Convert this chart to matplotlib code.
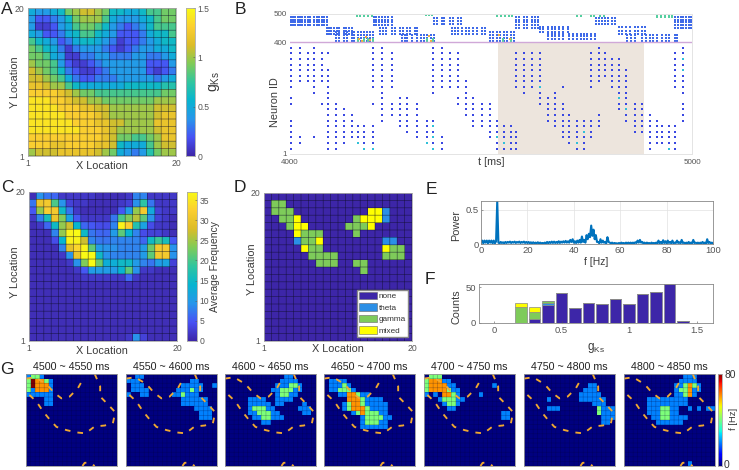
import numpy as np
import matplotlib
matplotlib.use("Agg")
import matplotlib.pyplot as plt
from matplotlib.colors import LinearSegmentedColormap, ListedColormap
from matplotlib.patches import Patch

plt.rcParams['font.family'] = ['Liberation Sans', 'DejaVu Sans']
plt.rcParams['mathtext.fontset'] = 'custom'
plt.rcParams['mathtext.rm'] = 'Liberation Sans'
plt.rcParams['mathtext.it'] = 'Liberation Sans'

W, H = 739, 470
TXT = '#3a3a3a'
TICK = '#555555'

parula = LinearSegmentedColormap.from_list('parula', [
    (0.2422, 0.1504, 0.6603), (0.2810, 0.3228, 0.9579), (0.1540, 0.5902, 0.9218),
    (0.0297, 0.7082, 0.8163), (0.1938, 0.7758, 0.6251), (0.5044, 0.7993, 0.3480),
    (0.8634, 0.7406, 0.1596), (0.9892, 0.8136, 0.1885), (0.9769, 0.9839, 0.0805)])

# panel A, gKs x10, first row is Y=20
gks = [
    [5, 4, 4, 5, 6, 9, 10, 11, 11, 10, 9, 6, 6, 5, 5, 6, 8, 8, 9, 9],
    [4, 2, 2, 3, 4, 6, 9, 10, 10, 10, 8, 5, 4, 4, 4, 5, 6, 8, 9, 9],
    [4, 1, 1, 2, 4, 5, 8, 9, 9, 8, 6, 4, 3, 2, 3, 4, 6, 8, 8, 8],
    [5, 4, 2, 2, 3, 5, 6, 8, 8, 6, 5, 4, 2, 2, 2, 3, 5, 6, 6, 8],
    [8, 6, 5, 4, 2, 3, 5, 6, 6, 5, 4, 3, 1, 2, 2, 3, 4, 5, 6, 6],
    [9, 8, 6, 5, 3, 1, 3, 4, 4, 4, 3, 2, 1, 2, 3, 4, 4, 5, 5, 6],
    [9, 9, 8, 5, 4, 1, 1, 3, 3, 4, 4, 3, 3, 3, 4, 4, 3, 3, 4, 5],
    [10, 9, 9, 8, 4, 2, 1, 1, 2, 3, 4, 4, 4, 4, 4, 4, 2, 2, 2, 4],
    [11, 10, 9, 8, 6, 3, 2, 1, 1, 2, 3, 4, 4, 4, 4, 4, 2, 1, 2, 3],
    [11, 11, 10, 9, 8, 5, 3, 2, 2, 3, 3, 3, 4, 4, 4, 4, 4, 3, 4, 5],
    [12, 12, 11, 10, 10, 8, 6, 5, 5, 5, 5, 5, 5, 6, 6, 6, 6, 6, 7, 7],
    [13, 13, 13, 13, 12, 11, 10, 9, 9, 8, 8, 8, 8, 8, 8, 8, 8, 8, 9, 9],
    [14, 14, 14, 13, 13, 12, 11, 11, 10, 10, 9, 9, 9, 9, 9, 9, 9, 10, 10, 10],
    [14, 14, 14, 14, 13, 13, 13, 12, 12, 11, 11, 10, 10, 10, 10, 10, 10, 11, 11, 11],
    [14, 14, 14, 14, 14, 13, 13, 13, 13, 12, 11, 10, 10, 10, 10, 10, 10, 11, 12, 12],
    [14, 14, 14, 14, 14, 14, 13, 13, 13, 12, 12, 11, 11, 10, 10, 10, 10, 12, 12, 12],
    [14, 14, 14, 14, 14, 14, 14, 13, 13, 13, 12, 11, 10, 10, 10, 10, 10, 11, 12, 12],
    [13, 13, 13, 13, 13, 13, 13, 13, 13, 13, 12, 11, 9, 9, 8, 8, 9, 10, 12, 12],
    [13, 13, 13, 12, 12, 13, 13, 13, 13, 12, 12, 11, 6, 5, 5, 5, 8, 10, 11, 11],
    [10, 11, 11, 11, 12, 12, 12, 12, 12, 11, 10, 9, 5, 4, 3, 4, 7, 9, 10, 10],
]

# panel C, average frequency
freq = [
    [1, 9, 7, 6, 2, 2, 2, 2, 2, 1, 1, 1, 1, 2, 8, 8, 2, 2, 2, 2],
    [7, 30, 31, 20, 9, 3, 2, 2, 1, 1, 1, 1, 2, 3, 9, 18, 7, 2, 2, 2],
    [5, 24, 32, 31, 15, 7, 2, 1, 1, 1, 1, 1, 5, 10, 24, 31, 12, 3, 2, 2],
    [2, 8, 16, 30, 23, 11, 5, 2, 2, 2, 2, 7, 20, 23, 26, 21, 9, 3, 2, 1],
    [1, 2, 6, 15, 24, 27, 14, 6, 5, 4, 4, 8, 36, 32, 17, 11, 4, 2, 2, 1],
    [1, 1, 1, 8, 24, 36, 37, 15, 7, 6, 6, 10, 21, 14, 8, 4, 3, 3, 2, 1],
    [1, 1, 1, 4, 14, 36, 36, 27, 8, 7, 7, 8, 8, 8, 8, 6, 15, 19, 16, 5],
    [1, 1, 1, 1, 8, 29, 33, 36, 21, 10, 9, 9, 8, 8, 8, 10, 22, 31, 31, 9],
    [1, 1, 1, 1, 2, 9, 30, 37, 37, 15, 9, 8, 8, 8, 8, 10, 21, 31, 31, 9],
    [1, 1, 1, 1, 1, 2, 9, 23, 37, 22, 13, 13, 15, 15, 10, 8, 7, 10, 11, 3],
    [1, 1, 1, 1, 1, 1, 2, 5, 10, 10, 10, 10, 14, 21, 9, 2, 2, 1, 1, 1],
    [1, 1, 1, 1, 1, 1, 1, 2, 2, 2, 2, 2, 2, 6, 2, 1, 1, 1, 1, 1],
    [1] * 20, [1] * 20, [1] * 20, [1] * 20, [1] * 20, [1] * 20, [1] * 20,
    [1, 1, 1, 1, 1, 1, 1, 1, 1, 1, 1, 1, 1, 2, 9, 3, 1, 1, 1, 1],
]

# panel D, 0 none 1 theta 2 gamma 3 mixed
bands = [
    "00000000000000000000",
    "02200000000000000000",
    "02220000000000331000",
    "00223000000023331000",
    "00023300000222300000",
    "00003222000020000000",
    "00001223000000001100",
    "00000322000000003220",
    "00000022220000002220",
    "00000002220022000000",
    "00000000000002000000",
]
band_names = ['none', 'theta', 'gamma', 'mixed']
band_colors = ['#3d26a8', '#2b8fe6', '#7ecb5a', '#ffff00']

# panel B, excitatory bursts: time and neuron rows (one row = 20 ids)
exc_bursts = [
    (4002, [(1, 6), (9, 10), (12, 19)]), (4024, [(2, 3), (13, 19)]), (4044, [(13, 18)]),
    (4060, [(3, 3), (11, 19)]), (4079, [(9, 9), (13, 18)]), (4095, [(1, 9), (10, 15), (18, 18)]),
    (4115, [(1, 9)]), (4134, [(2, 8)]), (4153, [(3, 7)]), (4170, [(2, 5)]), (4185, [(1, 5)]),
    (4206, [(1, 5), (9, 9), (12, 19)]), (4230, [(6, 11), (12, 19)]), (4253, [(7, 9), (12, 18)]),
    (4274, [(5, 10)]), (4292, [(4, 10)]), (4317, [(3, 9)]), (4340, [(2, 6)]),
    (4356, [(1, 6), (11, 19)]), (4377, [(1, 3), (12, 19)]), (4398, [(12, 18)]),
    (4417, [(9, 10), (12, 18)]), (4437, [(7, 13)]), (4456, [(5, 10)]), (4477, [(5, 9)]),
    (4497, [(3, 9)]), (4516, [(1, 6)]), (4532, [(1, 5)]), (4549, [(1, 5)]),
    (4563, [(1, 4), (12, 18)]), (4582, [(11, 18)]), (4603, [(12, 18)]), (4621, [(9, 18)]),
    (4643, [(6, 10)]), (4659, [(5, 11)]), (4679, [(3, 9), (12, 12)]), (4694, [(2, 7)]),
    (4715, [(1, 6)]), (4731, [(1, 6)]), (4748, [(3, 6), (12, 18)]), (4769, [(5, 7), (13, 19)]),
    (4783, [(14, 18)]), (4800, [(12, 17)]), (4818, [(8, 17)]), (4837, [(6, 15)]),
    (4857, [(4, 9)]), (4876, [(4, 9)]), (4895, [(1, 7)]), (4912, [(2, 6)]), (4926, [(2, 5)]),
    (4943, [(1, 5)]), (4957, [(1, 5), (12, 18)]), (4978, [(6, 9), (11, 19)]),
]
# brighter spikes inside the excitatory part
bright_t = [4170, 4185, 4206, 4340, 4356, 4356, 4356, 4516, 4532, 4621, 4715, 4731, 4818, 4837, 4978, 4978, 4943]
bright_id = [40, 20, 20, 40, 20, 60, 100, 60, 40, 240, 40, 80, 200, 160, 340, 300, 20]
# inhibitory bands: spike times, neuron ids
inh_bands = [
    ([4002, 4007, 4013, 4019, 4024, 4031, 4037, 4044, 4050, 4060, 4066, 4072, 4079, 4085, 4091], [460, 470, 480, 490]),
    ([4091, 4097, 4103, 4110, 4117, 4123, 4134, 4140, 4147, 4153], [430, 440, 450]),
    ([4115, 4122, 4134, 4141, 4153, 4160, 4170, 4176, 4185, 4192, 4200, 4206], [405, 415, 425, 435]),
    ([4208, 4214, 4222, 4230, 4237, 4245, 4253], [460, 470, 480, 490]),
    ([4224, 4232, 4240, 4253, 4260, 4274, 4281, 4292, 4299, 4310, 4317], [430, 440, 450]),
    ([4278, 4286, 4292, 4303, 4317, 4325, 4334, 4340, 4350, 4358], [405, 415, 425]),
    ([4358, 4366, 4377, 4384, 4398, 4405, 4417, 4425], [465, 475, 485]),
    ([4402, 4410, 4417, 4428, 4437, 4446, 4456, 4465, 4477, 4484], [430, 440, 450]),
    ([4497, 4504, 4516, 4523, 4532, 4540, 4549, 4558], [405, 415, 425, 435]),
    ([4563, 4570, 4582, 4590, 4603, 4610, 4618], [450, 460, 470, 480, 490]),
    ([4621, 4630, 4643, 4651, 4659, 4668, 4679, 4692], [435, 445, 455]),
    ([4643, 4652, 4659, 4670, 4679, 4694, 4703, 4715, 4725, 4731, 4740, 4748, 4758], [410, 420, 430]),
    ([4762, 4769, 4776, 4783, 4791, 4800, 4808], [465, 475, 485]),
    ([4818, 4825, 4837, 4845, 4857, 4866, 4876, 4884], [430, 440, 455]),
    ([4839, 4848, 4857, 4876, 4885, 4895, 4904, 4912, 4926, 4935, 4943, 4957, 4962], [405, 415, 425]),
    ([4957, 4964, 4972, 4978, 4986, 4992, 4998], [450, 460, 470, 480, 490]),
]
green_bands = [
    ([4166, 4175, 4185, 4194, 4203], [492, 498]),
    ([4338, 4345, 4354], [495]),
    ([4516, 4525, 4535, 4546, 4552], [492, 498]),
    ([4715, 4724, 4748, 4757, 4770, 4782], [492, 498]),
    ([4914, 4922, 4933, 4942, 4950], [490, 497]),
    ([4170, 4185, 4195, 4340, 4356, 4530, 4549, 4206], [403, 410]),
]
orange_t = [4172, 4180, 4190, 4198, 4345, 4520, 4548, 4350]
orange_id = [410, 405, 418, 408, 420, 425, 412, 405]
stim_window = [4518, 4880]

# panel E
spec_f = np.arange(0, 100.5, 0.5)
spec_p = [
    0.02, 0.05, 0.01, 0.05, 0.02, 0.05, 0.01, 0.05, 0.02, 0.05, 0.01, 0.05, 0.01, 0.04, 0.63, 0.02, 0.01, 0.03, 0.015, 0.025,
    0.01, 0.03, 0.015, 0.03, 0.02, 0.035, 0.015, 0.03, 0.02, 0.035, 0.015, 0.03, 0.02, 0.035, 0.015, 0.03, 0.02, 0.035, 0.015, 0.03,
    0.015, 0.03, 0.01, 0.025, 0.01, 0.025, 0.01, 0.02, 0.01, 0.025, 0.01, 0.02, 0.01, 0.015, 0.01, 0.02, 0.01, 0.03, 0.01, 0.03,
    0.015, 0.035, 0.015, 0.035, 0.015, 0.03, 0.015, 0.04, 0.015, 0.035, 0.02, 0.04, 0.02, 0.045, 0.02, 0.04, 0.02, 0.06, 0.03, 0.07,
    0.02, 0.04, 0.015, 0.05, 0.02, 0.06, 0.02, 0.11, 0.03, 0.06, 0.02, 0.13, 0.07, 0.15, 0.1, 0.27, 0.12, 0.21, 0.07, 0.13,
    0.03, 0.03, 0.01, 0.07, 0.02, 0.05, 0.02, 0.03, 0.01, 0.1, 0.03, 0.02, 0.01, 0.02, 0.005, 0.015, 0.01, 0.01, 0.005, 0.015,
    0.005, 0.02, 0.01, 0.015, 0.005, 0.02, 0.01, 0.02, 0.01, 0.02, 0.01, 0.02, 0.01, 0.025, 0.015, 0.05, 0.02, 0.06, 0.02, 0.03,
    0.01, 0.02, 0.005, 0.02, 0.01, 0.015, 0.005, 0.02, 0.01, 0.015, 0.01, 0.02, 0.01, 0.05, 0.01, 0.03, 0.01, 0.055, 0.015, 0.04,
    0.01, 0.05, 0.015, 0.03, 0.01, 0.05, 0.01, 0.02, 0.015, 0.05, 0.015, 0.025, 0.01, 0.06, 0.015, 0.02, 0.01, 0.02, 0.005, 0.03,
    0.01, 0.02, 0.01, 0.06, 0.015, 0.02, 0.01, 0.02, 0.005, 0.02, 0.01, 0.03, 0.01, 0.02, 0.005, 0.07, 0.015, 0.03, 0.01, 0.02, 0.01,
]

# panel F
hist_g = [0.2, 0.3, 0.4, 0.5, 0.6, 0.7, 0.8, 0.9, 1.0, 1.1, 1.2, 1.3, 1.4]
hist_none = [0, 6, 25, 42, 21, 28, 27, 34, 27, 40, 43, 54, 3]
hist_theta = [0, 0, 3, 0, 0, 0, 0, 0, 0, 0, 0, 0, 0]
hist_gamma = [22, 10, 3, 0, 0, 0, 0, 0, 0, 0, 0, 0, 0]
hist_mixed = [6, 7, 0, 0, 0, 0, 0, 0, 0, 0, 0, 0, 0]

# panel G, rate in units of 20 Hz, first row on top, rows left out are zero
g_titles = ['4500 ~ 4550 ms', '4550 ~ 4600 ms', '4600 ~ 4650 ms', '4650 ~ 4700 ms',
            '4700 ~ 4750 ms', '4750 ~ 4800 ms', '4800 ~ 4850 ms']
g1 = ["1221", "243321", "243331", "213331", "111111", "000011", "000011"]
g2 = ["0011", "1110000000000011", "01110000000011111001", "0111100000011121100",
      "100110000011211100", "000000000000111111", "000000000000111111",
      "0000000000000001111", "0000000000000000111", "0000000000000000111"]
g3 = ["0000000000000110", "000000000000111100", "0000000000011122100", "0000000000112221100",
      "000000000001221100", "00000111100111100", "000001111101100001",
      "0000012221100000111", "0000011222110000011", "00000011221110", "0000000011"]
g4 = ["", "01111", "011121", "0112221", "0001133211", "00000333211110", "00001233211111",
      "00001233321111", "0000001232221100", "0000000012222110", "00000000122211", "00000000111111"]
g5 = ["02220", "233311", "233331100000000100", "23333211", "101033210000100", "000122211",
      "00001221", "00000110", "00000000000000000110", "00000000000000000110"]
g6 = ["", "", "00000000000000110", "0000000000000111", "00000000000011111", "000001000000111111",
      "000000000000000111", "000001110000000021110", "00000000000000002111", "00000000000000000111",
      "00000000000000000110"]
g7 = ["0000000000000111", "000000000000111100", "00000000000112321", "00000000000122311",
      "000000000001123100", "00000111111111", "000001111111110", "00000111221100101011",
      "0000011122110", "00000011221111", "0000000111111"]
g_bottom = {6: 14}
g_frames = [g1, g2, g3, g4, g5, g6, g7]

# gKs contour seen on panel G, in cell units
contour_x1 = [0, 2, 4.5, 6.1, 7.8, 9.6, 11.4, 12.6]
contour_y1 = [19.0, 19.3, 17.8, 16.0, 14.7, 15.1, 16.9, 19.0]
contour_x2 = [15.1, 16.3, 16.3, 18.0, 19.6, 19.1, 17.3, 15.1, 13.1, 11.1, 8.9, 6.7, 5.3, 3.8, 2.3, 0.7, 0]
contour_y2 = [20, 17.3, 15.1, 13.4, 11.7, 9.3, 8.8, 8.6, 7.1, 7.3, 7.8, 8.5, 10.0, 11.8, 14.0, 15.5, 16.2]
contour_x3 = [12.4, 12.9, 14.0, 15.1]
contour_y3 = [0, 0.7, 0.7, 0]


fig = plt.figure(figsize=(W / 100, H / 100), dpi=100)


def ax_px(l, t, r, b):
    return fig.add_axes([l / W, 1 - b / H, (r - l) / W, (b - t) / H])


def txt(x, y, s, **kw):
    kw.setdefault('ha', 'center')
    kw.setdefault('va', 'center')
    kw.setdefault('color', TXT)
    kw.setdefault('fontsize', 7.8)
    fig.text(x / W, 1 - y / H, s, **kw)


def digits(rows):
    rows = [r[:20].ljust(20, '0') for r in rows] + ['0' * 20] * (20 - len(rows))
    return np.array([[int(c) for c in r] for r in rows], dtype=float)


def grid_lines(ax, edges, color, lw):
    # thin lines between cells, no snapping so they stay faint
    ax.vlines(edges, edges[0], edges[-1], colors=color, linewidth=lw, snap=False, zorder=2)
    ax.hlines(edges, edges[0], edges[-1], colors=color, linewidth=lw, snap=False, zorder=2)


def cell_map(l, t, r, b, data, cmap, vmin, vmax):
    ax = ax_px(l, t, r, b)
    yy = np.arange(20.5, 0, -1)
    ax.pcolormesh(np.arange(0.5, 21), yy, np.array(data), cmap=cmap, vmin=vmin, vmax=vmax)
    grid_lines(ax, np.arange(0.5, 21), (0.05, 0.05, 0.15, 0.6), 0.5)
    ax.set_xlim(0.5, 20.5)
    ax.set_ylim(0.5, 20.5)
    ax.set_xticks([0.5, 20.5], ['1', '20'])
    ax.set_yticks([0.5, 20.5], ['1', '20'])
    ax.tick_params(length=0, labelsize=6.2, labelcolor=TICK, pad=2.5)
    for s in ax.spines.values():
        s.set_edgecolor('#aaaaaa')
        s.set_linewidth(0.6)
    return ax


def colorbar(l, t, r, b, cmap, vmin, vmax, ticks, labels=None):
    ax = ax_px(l, t, r, b)
    ax.imshow(np.linspace(1, 0, 256)[:, None], cmap=cmap, aspect='auto',
              extent=[0, 1, vmin, vmax])
    ax.set_xticks([])
    ax.yaxis.tick_right()
    ax.set_yticks(ticks, labels if labels else [str(v) for v in ticks])
    ax.tick_params(length=1.5, width=0.4, color=TICK, labelsize=6.2, labelcolor=TICK, pad=2, direction='in')
    for s in ax.spines.values():
        s.set_edgecolor('#aaaaaa')
        s.set_linewidth(0.6)
    return ax


# A
cell_map(28, 8, 176, 156, np.array(gks) / 10, parula, 0, 1.5)
colorbar(186, 8, 195, 156, parula, 0, 1.5, [0, 0.5, 1, 1.5], ['0', '0.5', '1', '1.5'])
txt(102, 166, 'X Location')
txt(15, 82, 'Y Location', rotation=90)
txt(214, 82, r'$\mathrm{g_{Ks}}$', rotation=90, fontsize=10)

# B
ax = ax_px(290, 14, 692, 154)
ax.axvspan(stim_window[0], stim_window[1], ymin=0, ymax=0.8, color='#ede5dd', lw=0)
ax.axhline(400, color='#d0a8d8', lw=1)
for t, ranges in exc_bursts:
    ids = [20 * r for lo, hi in ranges for r in range(lo, hi + 1)]
    ax.scatter([t] * len(ids), ids, s=0.9, c='#3a48e2', marker='s', linewidths=0)
ax.scatter(bright_t, bright_id, s=1.2, c='#30c0d8', marker='s', linewidths=0)
for times, ids in inh_bands:
    for t in times:
        ax.scatter([t] * len(ids), ids, s=0.55, c='#3f6ae8', marker='s', linewidths=0)
for times, ids in green_bands:
    for t in times:
        ax.scatter([t] * len(ids), ids, s=0.7, c='#55cfa0', marker='s', linewidths=0)
ax.scatter(orange_t, orange_id, s=0.9, c='#f0b040', marker='s', linewidths=0)
ax.set_xlim(4000, 5000)
ax.set_ylim(1, 500)
ax.set_xticks([4000, 5000])
ax.set_yticks([1, 400, 500], ['1', '400', '500'])
ax.tick_params(length=0, labelsize=5.8, labelcolor=TICK, pad=2)
ax.tick_params(axis='x', pad=3.5)
for s in ax.spines.values():
    s.set_edgecolor('#e4e4e4')
    s.set_linewidth(0.7)
ax.spines['left'].set_visible(False)
txt(275, 102, 'Neuron ID', rotation=90)
txt(491, 162, 't [ms]')

# C
cell_map(29, 192, 177, 341, freq, parula, 0, 37)
colorbar(187, 192, 197, 341, parula, 0, 37, [0, 5, 10, 15, 20, 25, 30, 35])
txt(102, 351, 'X Location')
txt(15, 272, 'Y Location', rotation=90)
txt(215, 267, 'Average Frequency', rotation=90, fontsize=7.5)

# D
ax = cell_map(264, 193, 412, 341, digits(bands), ListedColormap(band_colors), -0.5, 3.5)
ax.legend(handles=[Patch(facecolor=c, edgecolor='#666666', lw=0.4, label=n) for c, n in zip(band_colors, band_names)],
          loc='lower right', bbox_to_anchor=(0.973, 0.027), borderaxespad=0, fontsize=5.9, fancybox=False,
          framealpha=1, edgecolor='#888888', handlelength=2.2, handleheight=1.0, labelspacing=0.37, borderpad=0.25,
          handletextpad=0.2, labelcolor='#333333')
txt(338, 349, 'X Location')
txt(252, 269, 'Y Location', rotation=90)

# E
ax = ax_px(481, 201, 713, 244)
ax.plot(spec_f, spec_p, color='#0072bd', lw=1.5)
ax.set_xlim(0, 100)
ax.set_ylim(0, 0.63)
ax.set_xticks([0, 20, 40, 60, 80, 100])
ax.set_yticks([0, 0.5], ['0', '0.5'])
ax.grid(color='#e2e2e2', lw=0.5)
ax.tick_params(length=1.5, width=0.4, color=TICK, labelsize=6.8, labelcolor=TICK, pad=1.5, direction='in')
for s in ax.spines.values():
    s.set_edgecolor('#888888')
    s.set_linewidth(0.6)
txt(596, 262, 'f [Hz]', fontsize=7.5)
txt(456, 226, 'Power', rotation=90)

# F
ax = ax_px(479, 284, 713, 323)
bottom = np.zeros(len(hist_g))
for vals, col in zip([hist_none, hist_theta, hist_gamma, hist_mixed], band_colors):
    ax.bar(hist_g, vals, width=0.085, bottom=bottom, color=col, edgecolor='#888888', linewidth=0.5)
    bottom = bottom + np.array(vals)
ax.set_xlim(-0.11, 1.62)
ax.set_ylim(0, 54.6)
ax.set_xticks([0, 0.5, 1, 1.5], ['0', '0.5', '1', '1.5'])
ax.set_yticks([0, 50])
ax.tick_params(length=1.5, width=0.4, color=TICK, labelsize=6.8, labelcolor=TICK, pad=2, direction='in')
for s in ax.spines.values():
    s.set_edgecolor('#888888')
    s.set_linewidth(0.6)
txt(596, 348, r'$\mathrm{g_{Ks}}$', fontsize=8.5)
txt(456, 307, 'Counts', rotation=90)

# G
g_left = [26, 126, 225, 324, 424, 524, 624]
for k, (l, frame, title) in enumerate(zip(g_left, g_frames, g_titles)):
    ax = ax_px(l, 374, l + 91, 466)
    data = digits(frame) * 20
    if k in g_bottom:
        data[19, g_bottom[k]] = 20
    ax.pcolormesh(np.arange(21), np.arange(20, -1, -1), data, cmap='jet', vmin=0, vmax=80)
    grid_lines(ax, np.arange(21), (0, 0, 0.2, 0.35), 0.4)
    for cx, cy in [(contour_x1, contour_y1), (contour_x2, contour_y2), (contour_x3, contour_y3)]:
        ax.plot(cx, cy, color='#f0a830', lw=1.35, linestyle=(0, (3.0, 3.8)))
    ax.set_xlim(0, 20)
    ax.set_ylim(0, 20)
    ax.set_xticks([])
    ax.set_yticks([])
    for s in ax.spines.values():
        s.set_edgecolor('#999999')
        s.set_linewidth(0.6)
    txt(l + 45.5, 367, title, fontsize=7.7, color='#222222')
ax = colorbar(718, 374, 722, 466, 'jet', 0, 80, [2, 80], ['0', '80'])
ax.tick_params(labelsize=7.4, length=0, labelcolor='#333333', pad=1.5)
txt(733, 419, 'f [Hz]', rotation=90, fontsize=6.8)

# panel letters
for x, y, s in [(7, 9, 'A'), (240, 9, 'B'), (7, 187, 'C'), (240, 187, 'D'), (431, 189, 'E'), (430, 279, 'F'), (7, 370, 'G')]:
    txt(x, y, s, fontsize=12.5, color='#222222')

fig.savefig('out.png', dpi=100)
